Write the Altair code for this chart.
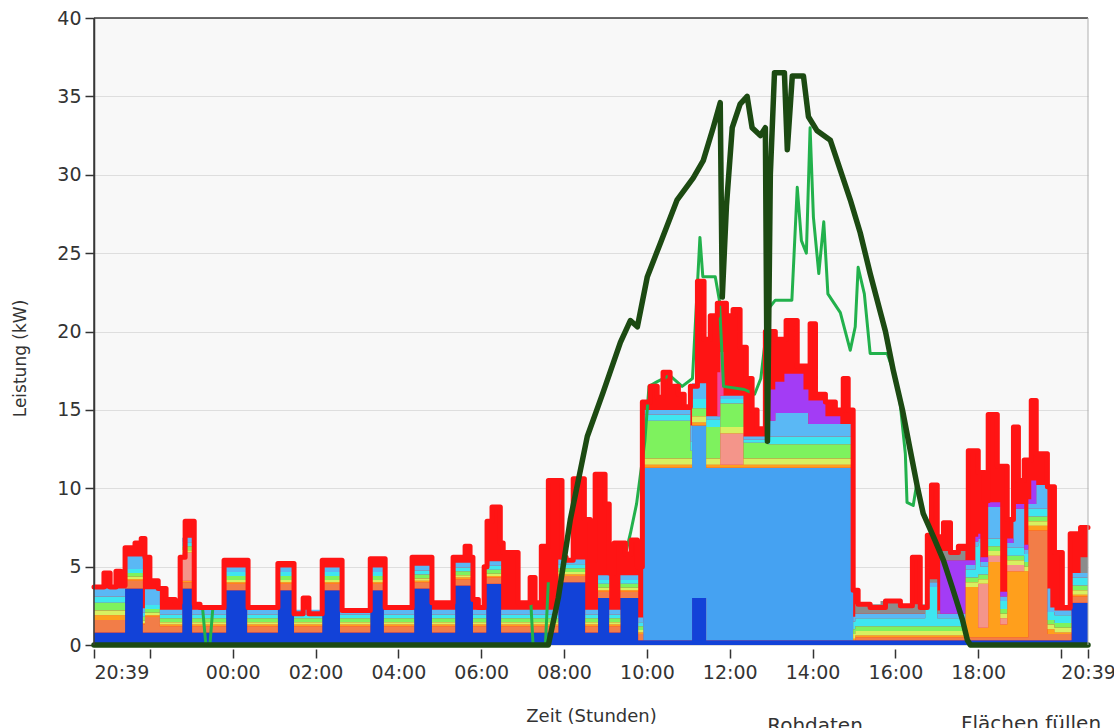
import altair as alt
import pandas as pd

# x-Achse: Stunden seit 20:39 (0 .. 24)
tick_pos = [0, 1.35, 3.35, 5.35, 7.35, 9.35, 11.35, 13.35, 15.35, 17.35, 19.35, 21.35, 23.35, 24]
tick_txt = ["20:39", "", "00:00", "02:00", "04:00", "06:00", "08:00", "10:00",
            "12:00", "14:00", "16:00", "18:00", "", "20:39"]
y_ticks = [0, 5, 10, 15, 20, 25, 30, 35, 40]

# Gestapelte Verbraucher: Stufenwerte (Stunde, kW)
dunkelblau = [(0, 0.8), (0.75, 3.6), (1.18, 0.8), (2.13, 3.6), (2.37, 0.8), (3.19, 3.5), (3.70, 0.8),
              (4.44, 3.5), (4.83, 0.8), (5.51, 3.5), (5.94, 0.8), (6.67, 3.5), (7.00, 0.8),
              (7.73, 3.6), (8.16, 0.8), (8.72, 3.8), (9.15, 0.8), (9.47, 3.9), (9.83, 0.8),
              (11.21, 4.0), (11.86, 0.8), (12.17, 3.0), (12.44, 0.8), (12.71, 3.0), (13.14, 0.3),
              (14.44, 3.0), (14.78, 0.3), (23.60, 2.7)]
hellblau = [(0, 0), (13.26, 11.0), (18.33, 0)]
koralle = [(0, 0.8), (0.75, 0.5), (1.23, 1.0), (1.59, 0.4), (13.26, 0), (18.38, 0.2),
           (22.56, 7.0), (23.02, 0.4)]
orange = [(0, 0.3), (0.75, 0.1), (13.26, 0.2), (18.33, 0.1), (21.04, 3.2), (21.35, 0.6),
          (21.59, 4.8), (21.88, 0.8), (22.05, 4.2), (22.56, 0.3), (23.19, 0.1)]
lachs = [(0, 0), (2.13, 1.8), (2.37, 0), (15.12, 2.0), (15.68, 0), (21.35, 2.8), (21.59, 0.4),
         (22.46, 0)]
gelbgruen = [(0, 0.3), (0.75, 0.15), (13.26, 0.4), (18.33, 0.3)]
hellgruen = [(0, 0.5), (0.75, 0.25), (13.26, 2.4), (14.40, 0.5), (14.78, 2.0), (15.12, 1.5),
             (15.68, 1.0), (16.26, 0.9), (18.33, 0.3)]
cyan = [(0, 0.4), (0.75, 0.25), (13.26, 0.4), (14.40, 0.6), (14.78, 0.5), (15.12, 0.3),
        (15.68, 0.2), (16.26, 0.5), (18.33, 0.5), (20.07, 2.5), (20.36, 0.5), (21.28, 2.0),
        (21.40, 0.5)]
himmelblau = [(0, 0.5), (0.75, 0.8), (1.18, 0.3), (1.23, 1.0), (1.59, 0.3), (13.26, 0.3),
              (14.40, 1.0), (14.78, 0.2), (16.26, 1.0), (16.45, 1.5), (17.25, 0.8), (18.33, 0.3),
              (21.59, 2.0), (21.88, 0.3), (22.20, 2.5), (22.46, 0.3), (22.75, 1.5), (23.09, 0.3)]
violett = [(0, 0), (16.33, 2.0), (16.67, 2.5), (17.13, 1.5), (17.66, 0.5), (18.02, 0),
           (20.43, 3.4), (21.04, 0.3), (22.63, 1.5), (22.75, 0)]
magenta = [(0, 0), (15.05, 2.8), (15.20, 0)]
grau = [(0, 0), (18.38, 0.6), (18.99, 0.8), (19.47, 0.6), (20.07, 0.2), (20.43, 0.6),
        (21.04, 0), (23.82, 1.0)]

# Gesamtverbrauch (rot), Stufenwerte
gesamt = [(0, 3.7), (0.24, 4.6), (0.39, 3.7), (0.53, 4.7), (0.65, 3.8), (0.75, 6.2), (0.99, 6.5),
          (1.14, 6.8), (1.23, 5.6), (1.35, 4.1), (1.55, 3.6), (1.74, 2.9), (1.96, 2.7), (2.08, 5.6),
          (2.20, 7.9), (2.42, 2.6), (2.56, 2.4), (3.14, 5.4), (3.72, 2.4), (4.44, 5.2), (4.83, 2.0),
          (5.05, 3.0), (5.19, 2.0), (5.51, 5.4), (5.99, 2.2), (6.67, 5.5), (7.03, 2.4), (7.68, 5.6),
          (8.16, 2.7), (8.67, 5.6), (8.96, 6.3), (9.08, 5.6), (9.15, 2.9), (9.28, 2.4), (9.42, 5.0),
          (9.49, 7.9), (9.61, 8.8), (9.81, 6.5), (9.88, 5.9), (10.24, 2.7), (10.53, 4.3),
          (10.65, 2.7), (10.80, 6.3), (10.97, 10.5), (11.30, 5.6), (11.40, 5.4), (11.57, 10.6),
          (11.84, 8.0), (11.98, 5.4), (12.10, 10.9), (12.34, 9.0), (12.44, 4.6), (12.56, 6.5),
          (12.83, 5.8), (12.97, 6.7), (13.12, 5.0), (13.24, 15.5), (13.43, 16.5), (13.60, 15.8),
          (13.74, 17.4), (13.91, 16.5), (14.11, 16.0), (14.25, 15.2), (14.40, 16.5), (14.57, 23.2),
          (14.73, 19.5), (14.88, 21.0), (15.05, 21.8), (15.27, 21.0), (15.43, 21.4), (15.60, 19.0),
          (15.75, 17.0), (15.89, 15.0), (16.01, 13.8), (16.21, 20.0), (16.45, 19.5), (16.71, 20.7),
          (16.98, 17.8), (17.29, 20.5), (17.42, 16.0), (17.66, 15.5), (17.90, 15.0), (18.09, 17.0),
          (18.21, 15.0), (18.33, 3.5), (18.45, 2.6), (18.74, 2.4), (19.11, 2.8), (19.47, 2.5),
          (19.76, 5.6), (19.95, 2.4), (20.12, 7.0), (20.22, 10.2), (20.36, 6.9), (20.51, 7.8),
          (20.68, 5.9), (20.87, 6.3), (21.11, 12.4), (21.35, 11.0), (21.50, 9.2), (21.59, 14.7),
          (21.81, 11.4), (22.05, 8.0), (22.20, 13.9), (22.32, 10.5), (22.46, 11.8), (22.63, 15.6),
          (22.75, 12.2), (23.02, 10.1), (23.19, 5.9), (23.38, 2.4), (23.57, 7.1), (23.82, 7.5),
          (24, 7.5)]

# PV-Erzeugung (dunkelgruen)
pv = [(0, 0), (10.97, 0), (11.21, 3), (11.5, 8), (11.91, 13.3), (12.29, 16.1), (12.71, 19.3),
      (12.95, 20.7), (13.12, 20.3), (13.36, 23.5), (13.67, 25.6), (14.08, 28.4), (14.47, 29.8),
      (14.71, 30.9), (14.95, 33), (15.12, 34.6), (15.17, 22.2), (15.27, 28), (15.41, 33),
      (15.6, 34.5), (15.77, 35), (15.89, 33), (16.09, 32.5), (16.21, 33), (16.26, 13),
      (16.33, 30), (16.43, 36.5), (16.67, 36.5), (16.74, 31.6), (16.86, 36.3), (17.13, 36.3),
      (17.25, 33.7), (17.46, 32.8), (17.78, 32.2), (18.02, 30.3), (18.26, 28.4), (18.50, 26.3),
      (18.74, 23.7), (18.99, 21.2), (19.11, 20.0), (19.30, 17.5), (19.52, 15.0), (19.71, 12.4),
      (19.88, 10.1), (20.02, 8.4), (20.27, 6.9), (20.51, 5.4), (20.72, 3.7), (20.97, 1.6),
      (21.09, 0.3), (21.16, 0), (24, 0)]

# hellgruene Linie, in Abschnitten
gruen_a = [(2.62, 2.4), (2.70, 0.05), (2.80, 0.05), (2.87, 2.4)]
gruen_b = [(10.55, 2.6), (10.60, 0.05), (10.90, 0.05), (10.97, 4.0)]
gruen_c = [(12.85, 6.0), (12.95, 7.1), (13.10, 9.0), (13.30, 13.0), (13.40, 16.5), (13.60, 16.8),
           (13.90, 17.2), (14.20, 16.5), (14.45, 17.0), (14.63, 26.0), (14.70, 23.5), (15.00, 23.5),
           (15.10, 22.0), (15.20, 16.5), (15.70, 16.3), (15.95, 16.0), (16.10, 17.0), (16.30, 21.5),
           (16.45, 22.0), (16.85, 22.0), (16.98, 29.2), (17.08, 25.8), (17.20, 25.0), (17.29, 33.0),
           (17.37, 27.3), (17.50, 23.7), (17.62, 27.0), (17.72, 22.4), (18.02, 21.2), (18.26, 18.8),
           (18.38, 20.3), (18.45, 24.1), (18.60, 22.4), (18.74, 18.6), (19.15, 18.6), (19.30, 17.5),
           (19.45, 15.8), (19.59, 12.2), (19.63, 9.1), (19.78, 8.9), (19.86, 10.2), (19.92, 9.9)]

reihenfolge = ["Dunkelblau", "Hellblau", "Koralle", "Orange", "Lachs", "Gelbgrün", "Hellgrün",
               "Cyan", "Himmelblau", "Violett", "Magenta", "Grau"]
stufen = [dunkelblau, hellblau, koralle, orange, lachs, gelbgruen, hellgruen, cyan, himmelblau,
          violett, magenta, grau]
farben = ["#1242d8", "#45a2f2", "#f27d48", "#ff9f1c", "#f4958a", "#d8f060", "#7ef25e",
          "#3ee6f0", "#5ab8f5", "#a33cf5", "#f0459e", "#8c8c8c"]

# gemeinsames Raster (Stufen gelten bis zum naechsten Wechsel)
raster = sorted({t for s in stufen for t, _ in s} | {24.0})
rows = []
for i, (name, pts) in enumerate(zip(reihenfolge, stufen)):
    j = 0
    for g in raster:
        while j + 1 < len(pts) and pts[j + 1][0] <= g:
            j += 1
        rows.append({"h": g, "kW": pts[j][1], "Verbraucher": name, "ord": i})
df_stack = pd.DataFrame(rows)
df_ges = pd.DataFrame(gesamt, columns=["h", "kW"])
df_pv = pd.DataFrame(pv, columns=["h", "kW"])
df_gr = pd.concat([pd.DataFrame(s, columns=["h", "kW"]).assign(seg=k)
                   for k, s in zip("abc", [gruen_a, gruen_b, gruen_c])])

FONT = "DejaVu Sans"
TXT = "#333333"

label_expr = " : ".join(f"abs(datum.value - {v}) < 0.01 ? '{t}'" for v, t in zip(tick_pos, tick_txt)) + " : ''"

xscale = alt.Scale(domain=[0, 24], nice=False, zero=False)
yscale = alt.Scale(domain=[0, 40], nice=False)
xaxis = alt.Axis(values=tick_pos, labelExpr=label_expr,
                 labelAlign={"condition": {"test": "datum.value < 0.1", "value": "left"}, "value": "center"},
                 labelFlush=False, labelOverlap=False, domain=False, grid=False, offset=4,
                 tickSize=9, tickColor=TXT, tickWidth=1.5, labelFontSize=19, labelPadding=5,
                 labelColor=TXT, title="Zeit (Stunden)", titleFontSize=18, titleFontWeight="normal",
                 titleColor=TXT, titleY=72, titleBaseline="alphabetic")
yaxis = alt.Axis(values=y_ticks, tickSize=9, tickColor=TXT, tickWidth=1.5, domainColor=TXT,
                 domainWidth=1.5, labelFontSize=19, labelColor=TXT, labelPadding=4,
                 gridColor="#dedede", gridWidth=1, title="Leistung (kW)", titleFontSize=17,
                 titleFontWeight="normal", titleColor=TXT, titleX=-74, titleY=340, titleAngle=270,
                 titleAlign="center", titleBaseline="middle")

X = alt.X("h:Q", scale=xscale, axis=xaxis)
Y = alt.Y("kW:Q", scale=yscale, axis=yaxis)

rot_flaeche = alt.Chart(df_ges).mark_area(interpolate="step-after", color="#ff1414").encode(x=X, y=Y)
stapel = alt.Chart(df_stack).mark_area(interpolate="step-after").encode(
    x=X,
    y=alt.Y("kW:Q", scale=yscale, axis=yaxis, stack="zero"),
    color=alt.Color("Verbraucher:N", scale=alt.Scale(domain=reihenfolge, range=farben), legend=None),
    order=alt.Order("ord:Q", sort="ascending"),
)
gruen_linie = alt.Chart(df_gr).mark_line(color="#22b14c", strokeWidth=3, strokeJoin="round").encode(
    x=X, y=Y, detail="seg:N")
rot_linie = alt.Chart(df_ges).mark_line(interpolate="step-after", color="#ff1414", strokeWidth=5,
                                        strokeJoin="round", strokeCap="round").encode(x=X, y=Y)
pv_linie = alt.Chart(df_pv).mark_line(color="#1c4a12", strokeWidth=5.5, strokeJoin="round",
                                      strokeCap="round").encode(x=X, y=Y)

eins = pd.DataFrame({"r": [0]})
rand_oben = alt.Chart(eins).mark_rule(color="#3a3a3a", strokeWidth=1.5).encode(y=alt.datum(40))
rand_links = alt.Chart(eins).mark_rule(color="#3a3a3a", strokeWidth=1.5).encode(x=alt.datum(0))
rand_rechts = alt.Chart(eins).mark_rule(color="#b0b0b0", strokeWidth=1).encode(x=alt.datum(24))

txt1 = alt.Chart(pd.DataFrame({"t": ["Rohdaten"]})).mark_text(
    font=FONT, fontSize=20, color=TXT, align="center", baseline="alphabetic").encode(
    text="t:N", x=alt.value(721), y=alt.value(714))
txt2 = alt.Chart(pd.DataFrame({"t": ["Flächen füllen"]})).mark_text(
    font=FONT, fontSize=20, color=TXT, align="center", baseline="alphabetic").encode(
    text="t:N", x=alt.value(937), y=alt.value(712))

chart = alt.layer(rot_flaeche, stapel, gruen_linie, rot_linie, pv_linie,
                  rand_oben, rand_links, rand_rechts, txt1, txt2).properties(
    width=994, height=627,
    autosize=alt.AutoSizeParams(type="none"),
    padding={"left": 94, "top": 18, "right": 26, "bottom": 83},
    background="white",
).configure_view(fill="#f8f8f8", stroke=None).configure_axis(
    labelFont=FONT, titleFont=FONT)

chart.save("out.html", embed_options={"renderer": "svg", "actions": False})
